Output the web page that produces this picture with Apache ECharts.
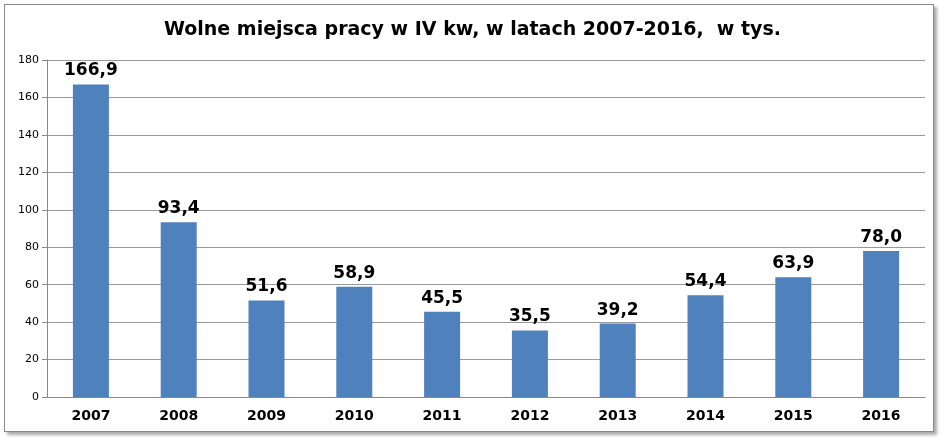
<!DOCTYPE html>
<html>
<head>
<meta charset="utf-8">
<script src="https://cdn.jsdelivr.net/npm/echarts@6/dist/echarts.min.js"></script>
<style>
  body { margin: 0; background: #fff; }
  #frame { position: absolute; left: 4px; top: 4px; width: 928px; height: 426px; border: 1px solid #888; box-shadow: 3px 3px 3px #aaa; }
  #chart { width: 945px; height: 443px; position: absolute; left: 0; top: 0; }
</style>
</head>
<body>
<div id="frame"></div>
<div id="chart"></div>
<script>
const years = ['2007', '2008', '2009', '2010', '2011', '2012', '2013', '2014', '2015', '2016']
const vacancies = [166.9, 93.4, 51.6, 58.9, 45.5, 35.5, 39.2, 54.4, 63.9, 78.0]

const mychart = echarts.init(document.getElementById('chart'))
mychart.setOption({
  animation: false,
  title: {
    text: 'Wolne miejsca pracy w IV kw, w latach 2007-2016,  w tys.',
    left: 'center',
    top: 16,
    textStyle: { fontFamily: 'DejaVu Sans', fontSize: 19, fontWeight: 'bold', color: '#000' }
  },
  grid: { left: 47, right: 20, top: 60, bottom: 46 },
  xAxis: {
    type: 'category',
    data: years,
    axisTick: { show: false },
    axisLine: { lineStyle: { color: '#888' } },
    axisLabel: { fontFamily: 'DejaVu Sans', fontSize: 14, fontWeight: 'bold', color: '#000', margin: 12 }
  },
  yAxis: {
    type: 'value',
    min: 0,
    max: 180,
    interval: 20,
    axisLine: { show: true, lineStyle: { color: '#888' } },
    axisTick: { show: true, lineStyle: { color: '#888' } },
    splitLine: { lineStyle: { color: '#999' } },
    axisLabel: { fontFamily: 'DejaVu Sans', fontSize: 11, color: '#000' }
  },
  series: [{
    type: 'bar',
    data: vacancies,
    barWidth: '41%',
    itemStyle: { color: '#4F81BD' },
    label: {
      show: true,
      position: 'top',
      fontFamily: 'DejaVu Sans',
      fontSize: 17,
      fontWeight: 'bold',
      color: '#000',
      formatter: p => p.value.toFixed(1).replace('.', ',')
    }
  }]
})
</script>
</body>
</html>
